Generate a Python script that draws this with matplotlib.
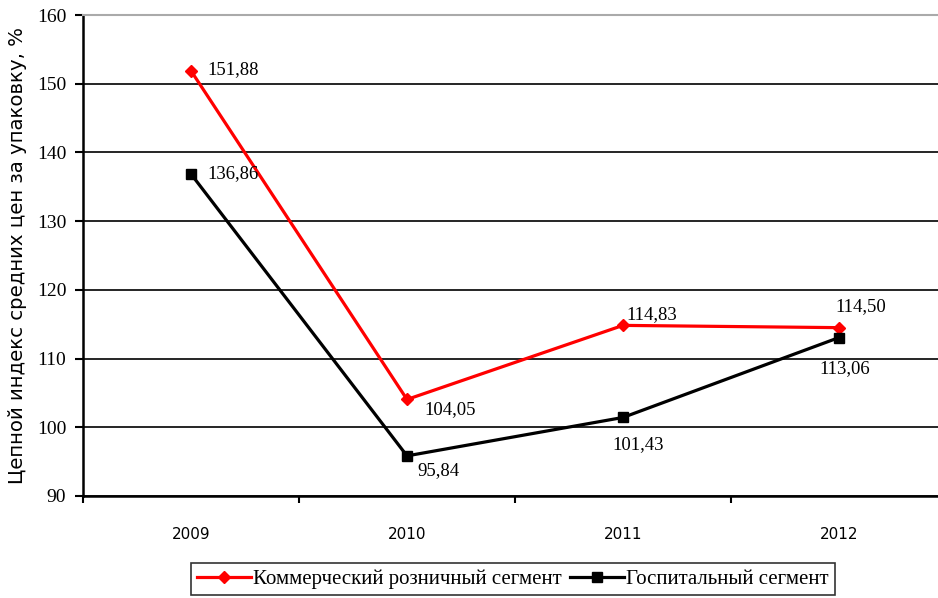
import numpy as np
import matplotlib.pyplot as plt

years = ['2009', '2010', '2011', '2012']
retail = [151.88, 104.05, 114.83, 114.50]
hospital = [136.86, 95.84, 101.43, 113.06]
retail_labels = ['151,88', '104,05', '114,83', '114,50']
hospital_labels = ['136,86', '95,84', '101,43', '113,06']

# label offsets in pixels (dx, dy)
retail_off = [(16, 1), (17, -10), (3, 11), (-4, 21)]
hospital_off = [(16, 0), (10, -15), (-11, -27), (-20, -31)]

fig = plt.figure(figsize=(9.38, 5.98), dpi=100)
ax = fig.add_axes([83 / 938, 1 - 496 / 598, 1 - 83 / 938, (496 - 15) / 598])

x = np.arange(len(years))
ax.plot(x, retail, color='#ff0000', lw=2.3, marker='D', ms=6.5,
        label='Коммерческий розничный сегмент', zorder=3)
ax.plot(x, hospital, color='black', lw=2.3, marker='s', ms=7.5,
        label='Госпитальный сегмент', zorder=3)

for i in range(len(years)):
    ax.annotate(retail_labels[i], (x[i], retail[i]), xytext=retail_off[i],
                textcoords='offset pixels', ha='left', va='center',
                family='Liberation Serif', fontsize=13.5)
    ax.annotate(hospital_labels[i], (x[i], hospital[i]), xytext=hospital_off[i],
                textcoords='offset pixels', ha='left', va='center',
                family='Liberation Serif', fontsize=13.5)

ax.set_yticks(np.arange(90, 161, 10))
ax.set_xticks(x)
ax.set_xticklabels(years, family='DejaVu Sans', fontsize=11)
ax.set_xticks(np.arange(-0.5, 4, 1), minor=True)
# ticks past the edge expand the limits, so set them afterwards
ax.set_xlim(-0.5, 3.5 - 9 / 216)
ax.set_ylim(90, 160)
ax.tick_params(axis='x', which='major', length=0, pad=22)
ax.tick_params(axis='x', which='minor', length=5, width=1.5, direction='out')
ax.tick_params(axis='y', length=6, width=1.5, direction='out', pad=6)
for lab in ax.get_yticklabels():
    lab.set_family('Liberation Serif')
    lab.set_fontsize(14)

ax.yaxis.grid(True, color='black', lw=1.2)
ax.set_axisbelow(True)
for s in ['left', 'bottom']:
    ax.spines[s].set_linewidth(1.8)
ax.spines['right'].set_visible(False)
ax.spines['top'].set_color('#aaaaaa')
ax.spines['top'].set_linewidth(1.5)

ax.set_ylabel('Цепной индекс средних цен за упаковку, %', family='DejaVu Sans',
              fontsize=14.2, labelpad=7)

leg = fig.legend(loc='center', bbox_to_anchor=(513 / 938, 1 - 579 / 598), ncol=2,
                 frameon=True, fancybox=False, edgecolor='black',
                 handlelength=2.6, handletextpad=0.1, columnspacing=0.4,
                 borderpad=0.3, prop={'family': 'Liberation Serif', 'size': 15})
leg.get_frame().set_linewidth(1.2)

fig.savefig('out.png', dpi=100)
